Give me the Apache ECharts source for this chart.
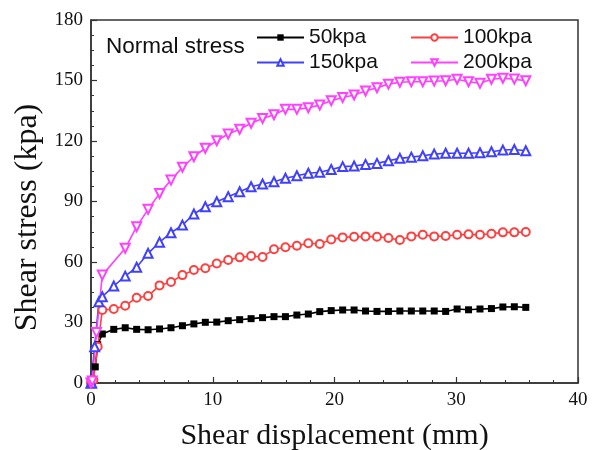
<!DOCTYPE html>
<html>
<head>
<meta charset="utf-8">
<script src="https://cdn.jsdelivr.net/npm/echarts@6/dist/echarts.min.js"></script>
<style>
  html, body { margin: 0; padding: 0; background: #fff; }
  #chart { width: 600px; height: 450px; }
</style>
</head>
<body>
<div id="chart"></div>
<script>
// shear displacement (mm) of the regular readings, shared by all four tests
const disp = [0.93, 1.87, 2.81, 3.75, 4.69, 5.63, 6.57, 7.51, 8.45, 9.39, 10.33, 11.27, 12.21, 13.15, 14.09,
  15.03, 15.97, 16.91, 17.85, 18.79, 19.73, 20.67, 21.61, 22.55, 23.49, 24.43, 25.37, 26.31, 27.25, 28.19,
  29.13, 30.07, 31.01, 31.95, 32.89, 33.83, 34.77, 35.71];

// first readings near the origin
const headDisp50 = [0.1, 0.35, 0.55];
const headStress50 = [0.5, 8, 19];
const headDisp100 = [0.2, 0.55];
const headStress100 = [1.5, 18];
const headDisp150 = [0.05, 0.3, 0.65];
const headStress150 = [0, 18, 40.3];
const headDisp200 = [0.1, 0.45];
const headStress200 = [1, 25];

const stress50 = [24.3, 26.6, 27.4, 26.6, 26.4, 26.8, 27.4, 28.4, 29.3, 30.1, 30.2, 30.9, 31.4, 31.9, 32.4,
  32.9, 32.9, 33.7, 34.2, 35.4, 35.9, 36.2, 36.2, 35.7, 35.5, 35.5, 35.7, 35.7, 35.7, 35.7,
  35.5, 36.7, 36.3, 36.7, 36.9, 37.7, 37.8, 37.5];
const stress100 = [36.2, 36.7, 38.3, 42.3, 43.1, 48.4, 50.1, 53.5, 56.0, 56.9, 59.3, 61.0, 62.3, 63.0, 62.5,
  66.3, 67.3, 68.1, 69.3, 68.9, 71.2, 72.2, 72.5, 72.7, 72.5, 71.9, 70.9, 72.7, 73.5, 72.7,
  72.9, 73.5, 73.7, 73.5, 74.0, 74.7, 74.7, 74.9];
const stress150 = [42.8, 48.1, 53.0, 57.4, 64.3, 69.8, 74.5, 78.3, 83.8, 87.4, 89.9, 92.4, 94.8, 97.3, 98.7,
  99.8, 101.5, 102.8, 104.0, 104.5, 105.9, 107.3, 107.6, 108.4, 108.9, 110.2, 111.4, 112.0, 112.7, 113.5,
  113.9, 113.9, 113.9, 114.2, 114.7, 115.5, 115.8, 115.2];
const stress200 = [53.5, null, 66.8, 77.5, 86.1, 94.0, 100.6, 107.0, 112.2, 116.4, 120.1, 123.5, 125.8, 128.8, 131.2,
  133.0, 135.7, 135.7, 136.5, 137.8, 140.0, 141.6, 142.8, 144.8, 146.4, 148.2, 149.1, 149.4, 149.4, 149.7,
  149.9, 150.6, 149.4, 148.6, 150.6, 151.1, 150.7, 149.9];

const xTicks = [0, 10, 20, 30, 40];
const yTicks = [0, 30, 60, 90, 120, 150, 180];

function pairs(headX, headY, ys) {
  const head = headX.map((x, i) => [x, headY[i]]);
  return [[0, 0], ...head, ...disp.map((x, i) => [x, ys[i]])];
}

const chart = echarts.init(document.getElementById('chart'));

const serif = '"Liberation Serif", "Times New Roman", serif';
const sans = '"Liberation Sans", Arial, sans-serif';

const axisCommon = {
  axisLine: {show: true, onZero: false, lineStyle: {color: '#333', width: 1.5}},
  axisTick: {show: true, inside: true, length: 6, lineStyle: {color: '#333', width: 1.2}},
  minorTick: {show: true, length: 3, lineStyle: {color: '#333', width: 1}},
  splitLine: {show: false},
  axisLabel: {color: '#111', fontSize: 19, fontFamily: serif},
  nameTextStyle: {color: '#111', fontSize: 30, fontFamily: serif},
};

const legendText = {color: '#111', fontSize: 21, fontFamily: sans};

const option = {
  animation: false,
  backgroundColor: '#fff',
  grid: {
    left: 91,
    right: 22,
    top: 20,
    bottom: 67,
    outerBoundsMode: 'none',
    show: true,
    borderColor: '#333',
    borderWidth: 1.5,
  },
  title: {
    text: 'Normal stress',
    left: 101,
    top: 30,
    textStyle: {color: '#111', fontSize: 22.5, fontWeight: 'normal', fontFamily: sans},
  },
  legend: [
    {
      orient: 'vertical',
      left: 251,
      top: 22,
      itemWidth: 47,
      itemHeight: 8,
      itemGap: 4,
      textStyle: legendText,
      data: ['50kpa', '150kpa'],
    },
    {
      orient: 'vertical',
      left: 405,
      top: 22,
      itemWidth: 47,
      itemHeight: 8,
      itemGap: 4,
      textStyle: legendText,
      data: ['100kpa', '200kpa'],
    },
  ],
  xAxis: {
    ...axisCommon,
    type: 'value',
    min: xTicks[0],
    max: xTicks[xTicks.length - 1],
    interval: 10,
    minorTick: {...axisCommon.minorTick, splitNumber: 5},
    axisLabel: {...axisCommon.axisLabel, margin: 8},
    name: 'Shear displacement (mm)',
    nameLocation: 'middle',
    nameGap: 38,
  },
  yAxis: {
    ...axisCommon,
    type: 'value',
    min: yTicks[0],
    max: yTicks[yTicks.length - 1],
    interval: 30,
    minorTick: {...axisCommon.minorTick, splitNumber: 4},
    axisLabel: {...axisCommon.axisLabel, margin: 8},
    name: 'Shear stress (kpa)',
    nameLocation: 'middle',
    nameGap: 47,
    nameTextStyle: {...axisCommon.nameTextStyle, fontSize: 32, padding: [0, 32, 0, 0]},
  },
  series: [
    {
      name: '50kpa',
      type: 'line',
      symbol: 'rect',
      symbolSize: 7,
      showAllSymbol: true,
      color: '#000',
      lineStyle: {width: 1.6},
      itemStyle: {color: '#000'},
      data: pairs(headDisp50, headStress50, stress50),
    },
    {
      name: '100kpa',
      type: 'line',
      symbol: 'emptyCircle',
      symbolSize: 8,
      showAllSymbol: true,
      color: '#ff0000',
      lineStyle: {width: 1.6},
      itemStyle: {color: '#ff4040', borderWidth: 1},
      data: pairs(headDisp100, headStress100, stress100),
    },
    {
      name: '150kpa',
      type: 'line',
      symbol: 'emptyTriangle',
      symbolSize: 9,
      showAllSymbol: true,
      color: '#0000ff',
      lineStyle: {width: 1.6},
      itemStyle: {color: '#4040ff', borderWidth: 1},
      data: pairs(headDisp150, headStress150, stress150),
    },
    {
      name: '200kpa',
      type: 'line',
      symbol: 'emptyTriangle',
      symbolRotate: 180,
      symbolSize: 9,
      showAllSymbol: true,
      connectNulls: true,
      color: '#ff00ff',
      lineStyle: {width: 1.6},
      itemStyle: {color: '#ff40ff', borderWidth: 1},
      data: pairs(headDisp200, headStress200, stress200),
    },
  ],
};

chart.setOption(option);
</script>
</body>
</html>
